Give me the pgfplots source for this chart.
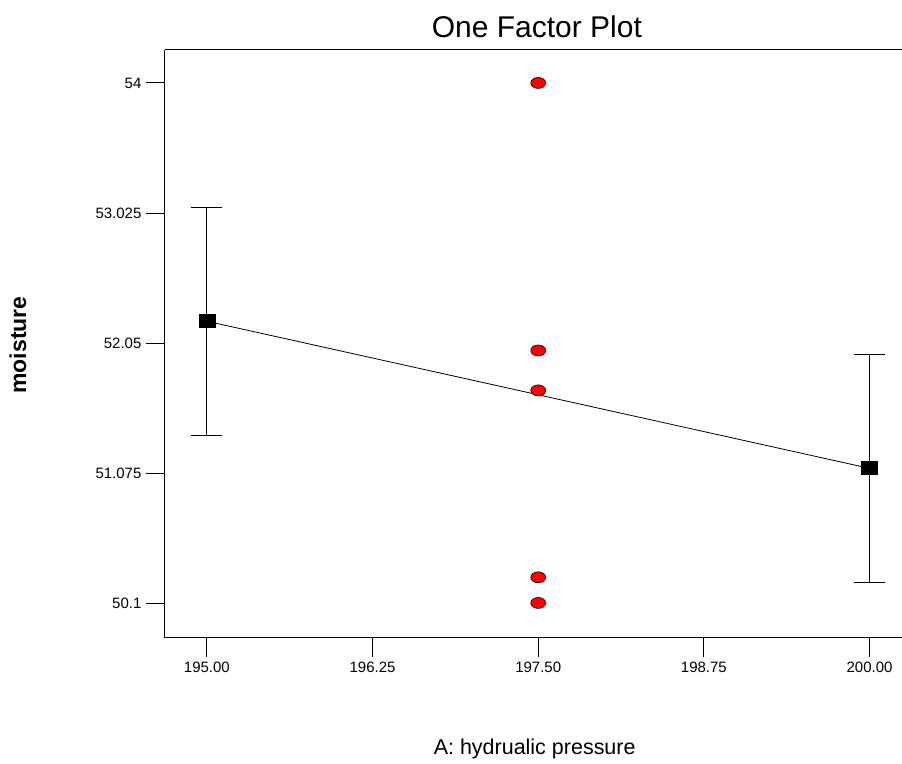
\documentclass[border=0pt]{standalone}
\usepackage{pgfplots}
\pgfplotsset{compat=1.18}
\usepackage{fontspec}
\setmainfont{Liberation Sans}
\begin{document}
\begin{tikzpicture}
\begin{axis}[
  name=ax,
  scale only axis,
  width=737bp, height=588bp,
  xmin=194.683, xmax=200.241,
  ymin=49.845, ymax=54.247,
  axis x line*=box, axis y line*=left,
  axis line style={black, line width=1bp},
  xtick pos=bottom, ytick pos=left,
  tick align=outside,
  major tick length=19bp,
  tick style={black, line width=1bp},
  xtick={195,196.25,197.5,198.75,200},
  xticklabels={195.00,196.25,197.50,198.75,200.00},
  ytick={50.1,51.075,52.05,53.025,54},
  yticklabels={50.1,51.075,52.05,53.025,54},
  ticklabel style={font=\fontsize{15bp}{17bp}\selectfont},
  xticklabel style={yshift=-2bp},
  yticklabel style={xshift=-1bp},
  title={One Factor Plot},
  title style={at={(axis description cs:0.505,1.030)}, anchor=center, font=\fontsize{30bp}{34bp}\selectfont},
  xlabel={A: hydrualic pressure},
  xlabel style={at={(axis description cs:0.502,-0.190)}, anchor=center, font=\fontsize{21.5bp}{24bp}\selectfont},
  ylabel={moisture},
  ylabel style={at={(axis description cs:-0.1995,0.498)}, anchor=center, font=\bfseries\fontsize{23bp}{26bp}\selectfont},
  clip=false,
]
\addplot[black, line width=0.8bp, mark=square*, mark size=6.5bp,
  mark options={xscale=1.23, solid},
  error bars/.cd, y dir=both, y explicit,
  error bar style={black, line width=1bp},
  error mark options={black, line width=1bp, mark size=15.5bp, rotate=90}]
  coordinates {(195,52.215) +- (0,0.855) (200,51.113) +- (0,0.853)};
\addplot[only marks, mark=*, mark size=5.5bp,
  mark options={fill=red, draw=black, xscale=1.36, line width=0.6bp}]
  coordinates {(197.5,54.0) (197.5,51.996) (197.5,51.697) (197.5,50.297) (197.5,50.105)};
\end{axis}
\path (ax.south west) ++(-165bp,-126bp) rectangle ([yshift=50bp]ax.north east);
\end{tikzpicture}
\end{document}
